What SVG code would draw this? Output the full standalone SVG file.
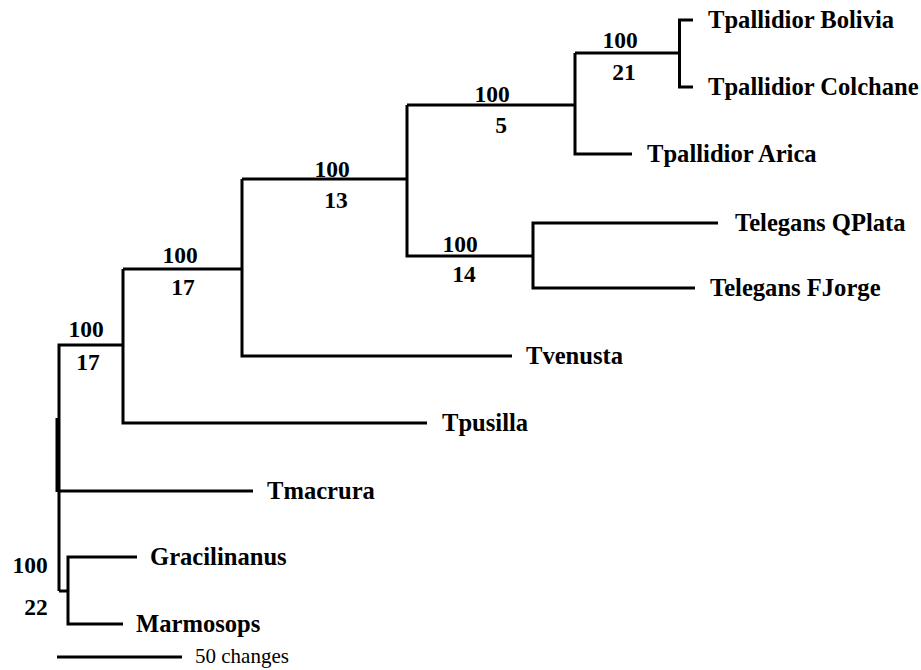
<svg xmlns="http://www.w3.org/2000/svg" width="921" height="670" viewBox="0 0 921 670">
<style>
.br{fill:none;stroke:#000;stroke-width:3;stroke-linejoin:miter;stroke-linecap:butt}
.tx{font-family:"Liberation Serif","Times New Roman",serif;font-weight:bold;font-size:24.6px;fill:#000}
.num{font-family:"Liberation Serif","Times New Roman",serif;font-weight:bold;font-size:23.5px;fill:#000;text-anchor:middle}
.sc{font-family:"Liberation Serif","Times New Roman",serif;font-size:21px;fill:#000}
</style>
<rect width="921" height="670" fill="#fff"/>
<g id="connectors">
<path class="br" d="M693,20 H679.5 V87 H693"/>
<path class="br" d="M679.5,53 H575 M632,154 H575 V53"/>
<path class="br" d="M575,105 H407 M533,256 H407 V105"/>
<path class="br" d="M718,223 H533 V288 H695"/>
<path class="br" d="M407,179 H242 M512,356 H242 V179"/>
<path class="br" d="M242,269 H123 M427,423 H123 V269"/>
<path class="br" d="M123,345 H59 V591 M253,491 H59"/>
<path class="br" d="M57,418 V492"/>
<path class="br" d="M59,591 H68"/>
<path class="br" d="M137,557 H68 V624 H123"/>
</g>
<g id="tip-bolivia"><text class="tx" x="708" y="28">Tpallidior Bolivia</text></g>
<g id="tip-colchane"><text class="tx" x="708" y="95">Tpallidior Colchane</text></g>
<g id="tip-arica"><text class="tx" x="647" y="162">Tpallidior Arica</text></g>
<g id="tip-qplata"><text class="tx" x="735" y="231">Telegans QPlata</text></g>
<g id="tip-fjorge"><text class="tx" x="710" y="296">Telegans FJorge</text></g>
<g id="tip-tvenusta"><text class="tx" x="526" y="364">Tvenusta</text></g>
<g id="tip-tpusilla"><text class="tx" x="442" y="431">Tpusilla</text></g>
<g id="tip-tmacrura"><text class="tx" x="267" y="499">Tmacrura</text></g>
<g id="tip-gracilinanus"><text class="tx" x="150" y="565">Gracilinanus</text></g>
<g id="tip-marmosops"><text class="tx" x="136" y="632">Marmosops</text></g>
<g id="node-21"><text class="num" x="620" y="48">100</text><text class="num" x="624" y="80">21</text></g>
<g id="node-5"><text class="num" x="492" y="102">100</text><text class="num" x="501" y="133">5</text></g>
<g id="node-14"><text class="num" x="460" y="252">100</text><text class="num" x="464" y="282">14</text></g>
<g id="node-13"><text class="num" x="332" y="177">100</text><text class="num" x="336" y="208">13</text></g>
<g id="node-17a"><text class="num" x="180" y="263">100</text><text class="num" x="183" y="295">17</text></g>
<g id="node-17b"><text class="num" x="86" y="337">100</text><text class="num" x="88" y="370">17</text></g>
<g id="node-22"><text class="num" x="30" y="573">100</text><text class="num" x="36" y="615">22</text></g>
<g id="scale-bar"><path class="br" d="M57,657 H182"/><text class="sc" x="195" y="663">50 changes</text></g>
</svg>
